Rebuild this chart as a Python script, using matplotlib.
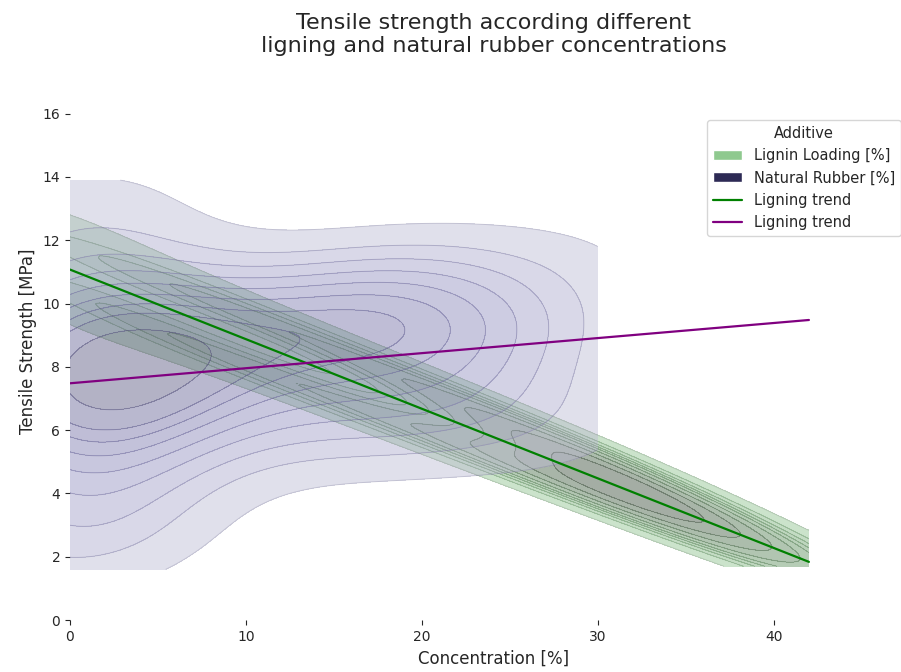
import numpy as np
import matplotlib
matplotlib.use("Agg")
import matplotlib.pyplot as plt
import seaborn as sns
from matplotlib.patches import Patch
from matplotlib.lines import Line2D

# dados (concentracao [%], resistencia [MPa])
lignin_conc = [0, 0, 0, 0, 0, 4, 4, 8, 8, 12, 12, 16, 16, 20, 20, 24, 24,
               27, 27, 27, 29, 29, 29, 31, 31, 31, 33, 33, 33, 35, 35, 38, 40, 42]
lignin_ts = [12.85, 9.25, 11.75, 10.35, 11.05, 10.98, 9.38, 10.21, 8.41, 9.23, 7.63,
             8.36, 6.76, 7.49, 5.89, 6.52, 5.12, 5.76, 4.56, 5.16, 5.33, 4.13, 4.73,
             4.79, 3.79, 4.29, 4.36, 3.36, 3.86, 3.72, 3.02, 2.9, 1.7, 1.89]

rubber_conc = [0, 0, 0, 0, 0, 0, 0, 0, 0, 0, 0, 0, 0, 0, 0,
               2, 2, 2, 2, 2, 4, 4, 4, 4, 5,
               8, 8, 10, 10, 12, 12,
               14, 15, 16, 17, 18, 18, 19, 20, 20, 21, 22, 23, 24, 26, 28, 29, 30]
rubber_ts = [1.6, 2.5, 3.5, 4.5, 5.5, 6.2, 6.8, 7.3, 7.8, 8.3, 8.8, 9.5, 10.5, 11.8, 13.9,
             5.0, 7.0, 8.0, 9.5, 12.5, 3.0, 6.5, 7.8, 9.0, 10.2,
             6.0, 8.5, 7.5, 9.5, 8.2, 9.8,
             6.0, 9.2, 10.2, 6.5, 9.4, 10.8, 8.2, 9.6, 6.0, 10.8, 8.5, 6.8, 9.0, 6.5, 9.4, 11.6, 5.5]

labels = ["Lignin Loading [%]", "Natural Rubber [%]"]
colors = ["#8fc98f", "#2d2a55"]

sns.set_style("ticks")
fig = plt.figure(figsize=(9.01, 6.72), dpi=100)
ax = fig.add_axes([70 / 901, 52 / 672, 848 / 901, 557 / 672])

# densidades
sns.kdeplot(x=lignin_conc, y=lignin_ts, fill=True, cut=0, alpha=0.5, color=colors[0], ax=ax)
sns.kdeplot(x=rubber_conc, y=rubber_ts, fill=True, cut=0, alpha=0.45, bw_adjust=1.1,
            color=colors[1], ax=ax)
sns.kdeplot(x=lignin_conc, y=lignin_ts, fill=False, cut=0, alpha=0.2, linewidths=0.7,
            color="#4f5a4f", ax=ax)
sns.kdeplot(x=rubber_conc, y=rubber_ts, fill=False, cut=0, alpha=0.2, linewidths=0.7,
            bw_adjust=1.1, color="#4a4670", ax=ax)

# linhas de tendencia
xt = np.linspace(0, 42, 50)
c1 = np.polyfit(lignin_conc, lignin_ts, 1)
c2 = np.polyfit(rubber_conc, rubber_ts, 1)
ax.plot(xt, np.polyval(c1, xt), color="green", lw=1.6)
ax.plot(xt, np.polyval(c2, xt), color="purple", lw=1.6)

ax.set_xlim(0, 48.2)
ax.set_ylim(0, 17.6)
ax.set_xticks([0, 10, 20, 30, 40])
ax.set_yticks(range(0, 17, 2))
ax.tick_params(labelsize=10)
ax.set_xlabel("Concentration [%]", fontsize=12)
ax.set_ylabel("Tensile Strength [MPa]", fontsize=12)
ax.set_title("Tensile strength according different\nligning and natural rubber concentrations",
             fontsize=16, pad=8)
sns.despine(ax=ax, left=True, bottom=True)

handles = [Patch(facecolor=colors[0], label=labels[0]),
           Patch(facecolor=colors[1], label=labels[1]),
           Line2D([], [], color="green", lw=1.6, label="Ligning trend"),
           Line2D([], [], color="purple", lw=1.6, label="Ligning trend")]
ax.legend(handles=handles, title="Additive", fontsize=10.5, title_fontsize=10.5,
          loc="upper left", bbox_to_anchor=(707 / 901, 1 - 120 / 672),
          bbox_transform=fig.transFigure, borderaxespad=0)

fig.savefig("out.png", dpi=100)
